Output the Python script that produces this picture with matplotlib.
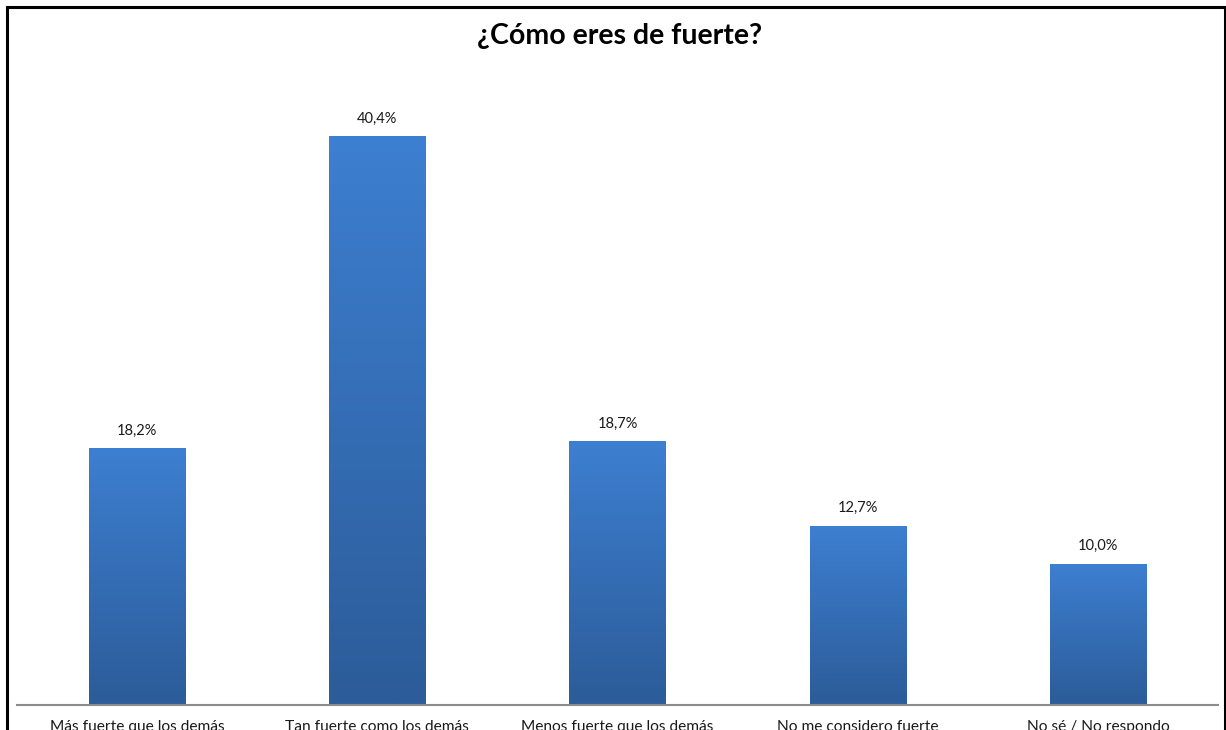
import matplotlib
matplotlib.use("Agg")
import matplotlib.pyplot as plt
import numpy as np
from matplotlib.colors import LinearSegmentedColormap
from matplotlib.patches import Rectangle

categories = ["Más fuerte que los demás", "Tan fuerte como los demás",
              "Menos fuerte que los demás", "No me considero fuerte",
              "No sé / No respondo"]
values = [18.2, 40.4, 18.7, 12.7, 10.0]
value_labels = ["18,2%", "40,4%", "18,7%", "12,7%", "10,0%"]
title = "¿Cómo eres de fuerte?"

plt.rcParams['font.family'] = ['Lato', 'DejaVu Sans']

W, H = 1226, 730
fig = plt.figure(figsize=(W / 100, H / 100), dpi=100)
fig.patch.set_facecolor("white")

# outer black frame
frame = Rectangle((7 / W, -0.05), (1224.5 - 7) / W, 1.05 - 7 / H, transform=fig.transFigure,
                  fill=False, edgecolor="black", linewidth=2.2)
fig.patches.append(frame)

ymax = 45.0
px_per_unit = 14.07
bottom_px = 704.5
top_px = bottom_px - ymax * px_per_unit
ax = fig.add_axes([17 / W, (H - bottom_px) / H, (1218 - 17) / W, (bottom_px - top_px) / H])
ax.set_xlim(-0.5, len(categories) - 0.5)
ax.set_ylim(0, ymax)
for s in ["top", "right", "left"]:
    ax.spines[s].set_visible(False)
ax.spines["bottom"].set_color("#8c8c8c")
ax.spines["bottom"].set_linewidth(1.5)
ax.set_yticks([])
ax.set_xticks(range(len(categories)))
ax.set_xticklabels(categories, fontsize=11.2, color="#1a1a1a")
ax.tick_params(axis="x", length=0, pad=11.5)

cmap = LinearSegmentedColormap.from_list("g", ["#2c5c99", "#3d7fd1"])
grad = np.linspace(0, 1, 256).reshape(-1, 1)
width = 0.4
bars = ax.bar(range(len(values)), values, width=width, color="none", edgecolor="none")
for i, (b, v) in enumerate(zip(bars, values)):
    x0 = b.get_x()
    im = ax.imshow(grad, extent=[x0, x0 + width, 0, v], origin="lower", cmap=cmap,
                   aspect="auto", zorder=2)
    im.set_clip_path(b)
    ax.text(i, v + 0.75, value_labels[i], ha="center", va="bottom", fontsize=10.5,
            color="#1a1a1a")
ax.set_xlim(-0.5, len(categories) - 0.5)
ax.set_ylim(0, ymax)

fig.text(620 / W, 1 - 36 / H, title, ha="center", va="center", fontsize=20.5,
         fontweight="bold", color="black")

fig.savefig("out.png", dpi=100)
